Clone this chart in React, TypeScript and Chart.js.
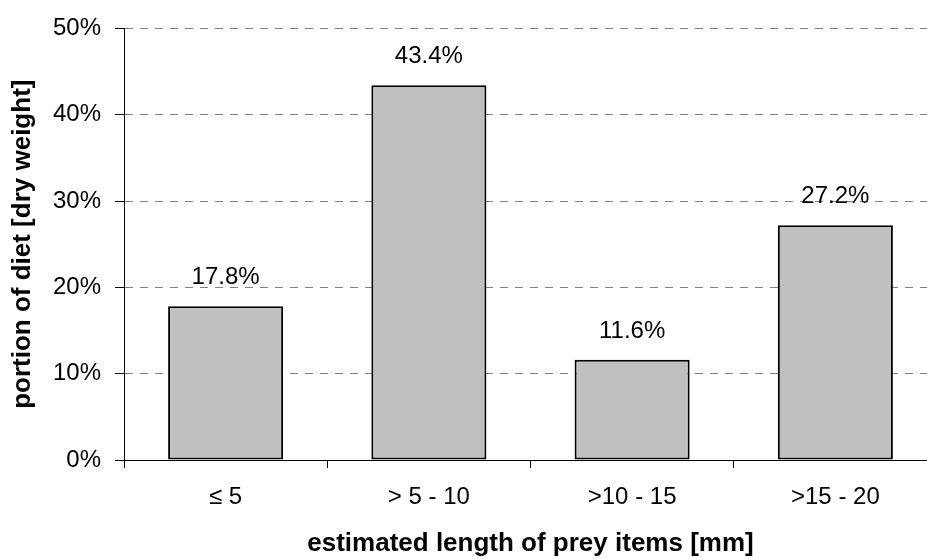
import React, { useEffect, useRef } from "react";
import { Chart, registerables } from "chart.js";

Chart.register(...registerables);

const categories = ["≤ 5", "> 5 - 10", ">10 - 15", ">15 - 20"];
const dietShare = [17.8, 43.4, 11.6, 27.2];
const yTickValues = [0, 10, 20, 30, 40, 50];
const xTitle = "estimated length of prey items [mm]";
const yTitle = "portion of diet [dry weight]";

const FONT = "'Liberation Sans', Arial, Helvetica, sans-serif";

const barLabels = {
  id: "barLabels",
  afterDatasetsDraw(chart: any) {
    const ctx = chart.ctx;
    const meta = chart.getDatasetMeta(0);
    const values = chart.data.datasets[0].data as number[];
    ctx.save();
    ctx.font = `24px ${FONT}`;
    ctx.fillStyle = "#000";
    ctx.textAlign = "center";
    ctx.textBaseline = "middle";
    meta.data.forEach((bar: any, i: number) => {
      ctx.fillText(values[i].toFixed(1) + "%", bar.x, bar.y - 28.5);
    });
    ctx.restore();
  },
};

export default function App() {
  const ref = useRef<HTMLCanvasElement>(null);

  useEffect(() => {
    if (!ref.current) return;
    const chart = new Chart(ref.current, {
      type: "bar",
      data: {
        labels: categories,
        datasets: [
          {
            data: dietShare,
            backgroundColor: "#c0c0c0",
            borderColor: "#000000",
            borderWidth: 2,
            borderSkipped: false,
            categoryPercentage: 1,
            barPercentage: 0.566,
          },
        ],
      },
      options: {
        animation: false,
        responsive: false,
        events: [],
        layout: { padding: { top: 23, right: 3, left: 0, bottom: 0 } },
        plugins: {
          legend: { display: false },
          tooltip: { enabled: false },
        },
        scales: {
          x: {
            offset: true,
            grid: {
              display: true,
              offset: true,
              drawOnChartArea: false,
              drawTicks: true,
              tickLength: 8,
              tickColor: "#000000",
              tickWidth: 1,
            },
            border: { display: true, color: "#000000", width: 1 },
            ticks: {
              color: "#000000",
              font: { family: FONT, size: 24 },
              padding: 15,
              maxRotation: 0,
              autoSkip: false,
            },
            title: {
              display: true,
              text: xTitle,
              color: "#000000",
              font: { family: FONT, size: 26, weight: "bold" },
              padding: { top: 0, bottom: 0 },
            },
            afterFit: (s: any) => {
              s.height = 99;
            },
          },
          y: {
            min: 0,
            max: 50,
            afterBuildTicks: (s: any) => {
              s.ticks = yTickValues.map((v) => ({ value: v }));
            },
            ticks: {
              color: "#000000",
              font: { family: FONT, size: 24 },
              padding: 14,
              callback: (v: any) => v + "%",
            },
            grid: {
              color: "#808080",
              lineWidth: 1,
              tickLength: 9,
              tickColor: "#000000",
              tickWidth: 1,
              tickBorderDash: [],
            },
            border: { display: true, color: "#000000", width: 1, dash: [8, 7] },
            title: {
              display: true,
              text: yTitle,
              color: "#000000",
              font: { family: FONT, size: 26, weight: "bold" },
              padding: { top: 7, bottom: 0 },
            },
            afterFit: (s: any) => {
              s.width = 124;
            },
          },
        },
      },
      plugins: [barLabels],
    } as any);
    return () => chart.destroy();
  }, []);

  return (
    <div
      style={{
        position: "fixed",
        left: 0,
        top: 0,
        width: 927,
        height: 559,
        overflow: "hidden",
        background: "#ffffff",
      }}
    >
      <canvas
        ref={ref}
        width={940}
        height={559}
        style={{ display: "block", width: 940, height: 559 }}
      />
    </div>
  );
}
